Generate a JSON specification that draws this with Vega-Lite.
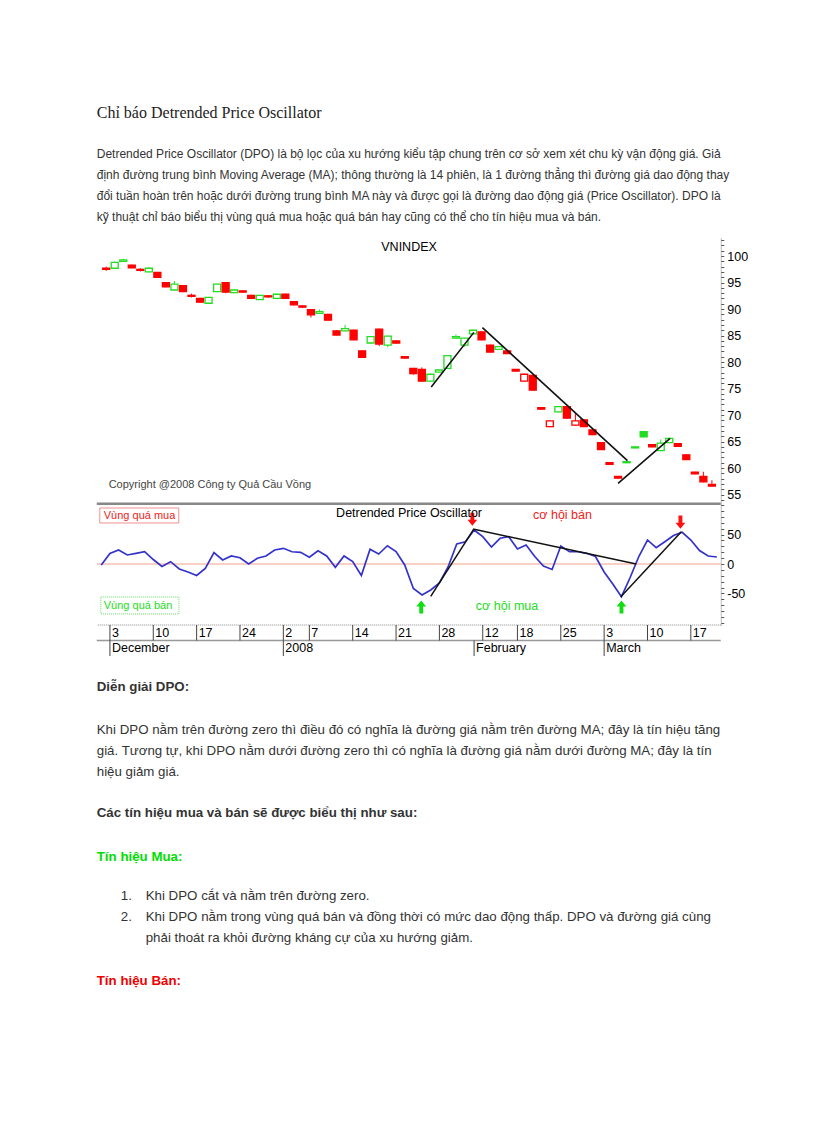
{
"$schema":"https://vega.github.io/schema/vega-lite/v6.json",
"background":"white",
"padding":{"left":94.75,"top":95,"right":0,"bottom":0},
"spacing":0,
"bounds":"flush",
"resolve":{"scale":{"color":"independent","fill":"independent","stroke":"independent","size":"independent","shape":"independent"}},
"config":{"view":{"stroke":null},"font":"Liberation Sans"},
"datasets":{
"topText":[
{"kind":"title","line":0,"indent":0,"t":"Chỉ báo Detrended Price Oscillator"},
{"kind":"p","line":1.9,"indent":0,"t":"Detrended Price Oscillator (DPO) là bộ lọc của xu hướng kiểu tập chung trên cơ sở xem xét chu kỳ vận động giá. Giả"},
{"kind":"p","line":2.9,"indent":0,"t":"định đường trung bình Moving Average (MA); thông thường là 14 phiên, là 1 đường thẳng thì đường giá dao động thay"},
{"kind":"p","line":3.9,"indent":0,"t":"đổi tuần hoàn trên hoặc dưới đường trung bình MA này và được gọi là đường dao động giá (Price Oscillator). DPO là"},
{"kind":"p","line":4.9,"indent":0,"t":"kỹ thuật chỉ báo biểu thị vùng quá mua hoặc quá bán hay cũng có thể cho tín hiệu mua và bán."}
],
"bottomText":[
{"kind":"h","line":0,"indent":0,"t":"Diễn giải DPO:"},
{"kind":"p","line":2,"indent":0,"t":"Khi DPO nằm trên đường zero thì điều đó có nghĩa là đường giá nằm trên đường MA; đây là tín hiệu tăng"},
{"kind":"p","line":3,"indent":0,"t":"giá. Tương tự, khi DPO nằm dưới đường zero thì có nghĩa là đường giá nằm dưới đường MA; đây là tín"},
{"kind":"p","line":4,"indent":0,"t":"hiệu giảm giá."},
{"kind":"h","line":5.93,"indent":0,"t":"Các tín hiệu mua và bán sẽ được biểu thị như sau:"},
{"kind":"buy","line":7.97,"indent":0,"t":"Tín hiệu Mua:"},
{"kind":"p","line":9.8,"indent":2,"t":"1."},
{"kind":"p","line":9.8,"indent":4.08,"t":"Khi DPO cắt và nằm trên đường zero."},
{"kind":"p","line":10.8,"indent":2,"t":"2."},
{"kind":"p","line":10.8,"indent":4.08,"t":"Khi DPO nằm trong vùng quá bán và đồng thời có mức dao động thấp. DPO và đường giá cùng"},
{"kind":"p","line":11.8,"indent":4.08,"t":"phải thoát ra khỏi đường kháng cự của xu hướng giảm."},
{"kind":"sell","line":13.78,"indent":0,"t":"Tín hiệu Bán:"}
],
"days":[
{"i":0,"o":97.7,"h":98.0,"l":97.2,"c":97.5,"chg":"down","dpo":-1.7},
{"i":1,"o":97.7,"h":99.0,"l":97.6,"c":98.8,"chg":"up","dpo":17.8},
{"i":2,"o":99.0,"h":99.5,"l":98.9,"c":99.3,"chg":"up","dpo":23.7},
{"i":3,"o":98.3,"h":98.4,"l":97.7,"c":97.8,"chg":"down","dpo":15.3},
{"i":4,"o":97.5,"h":97.7,"l":97.1,"c":97.3,"chg":"down","dpo":18.1},
{"i":5,"o":97.0,"h":97.9,"l":96.9,"c":97.7,"chg":"up","dpo":20.8},
{"i":6,"o":96.9,"h":97.0,"l":95.9,"c":96.0,"chg":"down","dpo":7.6},
{"i":7,"o":95.0,"h":95.1,"l":94.1,"c":94.2,"chg":"down","dpo":-4.2},
{"i":8,"o":93.6,"h":95.3,"l":93.5,"c":94.7,"chg":"up","dpo":3.9},
{"i":9,"o":94.4,"h":94.5,"l":93.2,"c":93.3,"chg":"down","dpo":-8.5},
{"i":10,"o":92.6,"h":92.9,"l":92.2,"c":92.4,"chg":"down","dpo":-13.6},
{"i":11,"o":92.0,"h":92.1,"l":91.2,"c":91.3,"chg":"down","dpo":-19.5},
{"i":12,"o":91.1,"h":92.3,"l":91.0,"c":92.2,"chg":"up","dpo":-7.6},
{"i":13,"o":93.3,"h":94.8,"l":93.2,"c":94.7,"chg":"up","dpo":19.5},
{"i":14,"o":95.0,"h":95.1,"l":93.0,"c":93.2,"chg":"down","dpo":6.8},
{"i":15,"o":93.1,"h":93.7,"l":93.0,"c":93.6,"chg":"up","dpo":13.6},
{"i":16,"o":93.45,"h":93.5,"l":93.1,"c":93.2,"chg":"down","dpo":10.7},
{"i":17,"o":92.6,"h":92.7,"l":91.9,"c":92.0,"chg":"down","dpo":0},
{"i":18,"o":91.8,"h":92.7,"l":91.7,"c":92.6,"chg":"up","dpo":9.7},
{"i":19,"o":92.5,"h":92.6,"l":92.1,"c":92.3,"chg":"down","dpo":13.6},
{"i":20,"o":92.0,"h":92.9,"l":91.9,"c":92.8,"chg":"up","dpo":23.7},
{"i":21,"o":92.8,"h":92.9,"l":91.9,"c":92.0,"chg":"down","dpo":26.6},
{"i":22,"o":91.4,"h":91.5,"l":90.7,"c":90.8,"chg":"down","dpo":20.8},
{"i":23,"o":90.6,"h":90.7,"l":90.2,"c":90.35,"chg":"down","dpo":19.8},
{"i":24,"o":89.9,"h":90.0,"l":88.4,"c":88.9,"chg":"down","dpo":11.4},
{"i":25,"o":89.2,"h":89.9,"l":89.1,"c":89.5,"chg":"up","dpo":22.5},
{"i":26,"o":89.0,"h":89.1,"l":87.8,"c":87.9,"chg":"down","dpo":13.6},
{"i":27,"o":85.9,"h":86.0,"l":85.0,"c":85.1,"chg":"down","dpo":-5.6},
{"i":28,"o":85.9,"h":87.0,"l":85.8,"c":86.3,"chg":"up","dpo":13.6},
{"i":29,"o":86.0,"h":86.1,"l":84.1,"c":84.2,"chg":"down","dpo":4.2},
{"i":30,"o":82.1,"h":82.2,"l":80.8,"c":80.9,"chg":"down","dpo":-19.5},
{"i":31,"o":83.6,"h":84.9,"l":83.5,"c":84.8,"chg":"up","dpo":24.9},
{"i":32,"o":86.2,"h":86.3,"l":83.0,"c":83.4,"chg":"down","dpo":16.9},
{"i":33,"o":83.2,"h":85.0,"l":82.8,"c":84.9,"chg":"up","dpo":31.0},
{"i":34,"o":84.0,"h":84.1,"l":83.4,"c":83.6,"chg":"down","dpo":21.2},
{"i":35,"o":81.0,"h":81.1,"l":80.6,"c":80.75,"chg":"down","dpo":-1.7},
{"i":36,"o":78.8,"h":78.9,"l":77.6,"c":77.8,"chg":"down","dpo":-41.5},
{"i":37,"o":78.6,"h":79.0,"l":76.3,"c":76.4,"chg":"down","dpo":-52.5},
{"i":38,"o":76.4,"h":77.8,"l":76.3,"c":77.7,"chg":"up","dpo":-44.0},
{"i":39,"o":78.1,"h":78.6,"l":78.0,"c":78.5,"chg":"up","dpo":-32.2},
{"i":40,"o":78.8,"h":81.3,"l":78.7,"c":81.2,"chg":"up","dpo":-5.1},
{"i":41,"o":84.5,"h":85.2,"l":84.4,"c":84.8,"chg":"up","dpo":33.9},
{"i":42,"o":83.2,"h":84.6,"l":82.9,"c":84.5,"chg":"up","dpo":37.8},
{"i":43,"o":85.3,"h":86.1,"l":85.2,"c":86.0,"chg":"up","dpo":57.6},
{"i":44,"o":85.7,"h":85.8,"l":84.1,"c":84.2,"chg":"down","dpo":46.3},
{"i":45,"o":83.2,"h":83.3,"l":81.8,"c":81.9,"chg":"down","dpo":28.8},
{"i":46,"o":82.4,"h":83.0,"l":82.3,"c":82.9,"chg":"up","dpo":43.6},
{"i":47,"o":82.1,"h":82.2,"l":81.5,"c":81.6,"chg":"down","dpo":46.3},
{"i":48,"o":78.6,"h":78.7,"l":78.2,"c":78.3,"chg":"down","dpo":25.4},
{"i":49,"o":76.4,"h":77.8,"l":76.3,"c":77.7,"chg":"down","dpo":32.2},
{"i":50,"o":77.5,"h":77.6,"l":74.6,"c":74.7,"chg":"down","dpo":12.7},
{"i":51,"o":71.4,"h":71.5,"l":71.0,"c":71.1,"chg":"down","dpo":-3.4},
{"i":52,"o":67.8,"h":69.0,"l":67.7,"c":68.9,"chg":"down","dpo":-9.3},
{"i":53,"o":70.6,"h":71.7,"l":70.5,"c":71.6,"chg":"up","dpo":30.5},
{"i":54,"o":71.6,"h":71.7,"l":69.3,"c":69.4,"chg":"down","dpo":20.8},
{"i":55,"o":68.1,"h":70.4,"l":68.0,"c":68.9,"chg":"down","dpo":20.8},
{"i":56,"o":69.1,"h":69.2,"l":67.7,"c":67.8,"chg":"down","dpo":18.1},
{"i":57,"o":67.2,"h":67.3,"l":66.2,"c":66.3,"chg":"down","dpo":12.7},
{"i":58,"o":64.8,"h":64.9,"l":63.4,"c":63.5,"chg":"down","dpo":-13.6},
{"i":59,"o":61.0,"h":61.1,"l":60.6,"c":60.7,"chg":"down","dpo":-33.9},
{"i":60,"o":58.4,"h":58.5,"l":58.0,"c":58.1,"chg":"down","dpo":-55.4},
{"i":61,"o":61.0,"h":61.3,"l":60.9,"c":61.2,"chg":"up","dpo":-22.9},
{"i":62,"o":63.8,"h":64.1,"l":63.7,"c":64.0,"chg":"up","dpo":12.7},
{"i":63,"o":66.85,"h":66.9,"l":65.8,"c":65.9,"chg":"up","dpo":40.7},
{"i":64,"o":64.4,"h":64.5,"l":63.9,"c":64.0,"chg":"down","dpo":27.6},
{"i":65,"o":63.3,"h":65.4,"l":63.2,"c":64.7,"chg":"up","dpo":37.8},
{"i":66,"o":64.8,"h":65.7,"l":64.7,"c":65.6,"chg":"up","dpo":48.3},
{"i":67,"o":64.6,"h":64.7,"l":64.0,"c":64.1,"chg":"down","dpo":53.7},
{"i":68,"o":62.5,"h":62.6,"l":61.5,"c":61.6,"chg":"down","dpo":40.7},
{"i":69,"o":59.2,"h":59.3,"l":58.8,"c":58.9,"chg":"down","dpo":22.9},
{"i":70,"o":58.4,"h":59.3,"l":57.3,"c":57.4,"chg":"down","dpo":13.6},
{"i":71,"o":56.9,"h":57.7,"l":56.5,"c":56.6,"chg":"down","dpo":11.9}
],
"trendP":[
{"seg":1,"i":38.1,"v":75.3},{"seg":1,"i":43.1,"v":85.6},
{"seg":2,"i":44.1,"v":86.5},{"seg":2,"i":61.1,"v":61.4},
{"seg":3,"i":60.0,"v":57.1},{"seg":3,"i":66.1,"v":65.6}
],
"trendD":[
{"seg":1,"i":38.0,"v":-55},{"seg":1,"i":43.0,"v":60},
{"seg":2,"i":43.0,"v":59},{"seg":2,"i":61.7,"v":0},
{"seg":3,"i":59.9,"v":-56},{"seg":3,"i":66.9,"v":54.7}
],
"priceNotes":[
{"kind":"title","i":35.5,"v":101.7,"t":"VNINDEX"},
{"kind":"copy","i":0.29,"v":56.8,"t":"Copyright @2008 Công ty Quả Cầu Vồng"}
],
"dpoRefs":[
{"kind":"zero","v":0},
{"kind":"sep","v":102.2}
],
"dpoNotes":[
{"kind":"title","i":35.5,"v":86.4,"t":"Detrended Price Oscillator"},
{"kind":"sell","i":49.8,"v":83,"t":"cơ hội bán"},
{"kind":"buy","i":43.2,"v":-71,"t":"cơ hội mua"},
{"kind":"sellzone","i":0.29,"v":81.4,"t":"Vùng quá mua"},
{"kind":"buyzone","i":0.29,"v":-71,"t":"Vùng quá bán"}
],
"boxes":[
{"kind":"sellzone","x1":-0.17,"x2":8.94,"y1":69.5,"y2":94.9},
{"kind":"buyzone","x1":-0.05,"x2":8.96,"y1":-55.9,"y2":-84.7}
],
"arrows":[
{"dir":"down","i":42.8,"v":76},
{"dir":"down","i":66.8,"v":71},
{"dir":"up","i":36.9,"v":-73},
{"dir":"up","i":60.0,"v":-73}
],
"bandLines":[
{"kind":"top","row":0},
{"kind":"mid","row":1}
],
"dayTicks":[
{"i":1,"t":"3"},{"i":6,"t":"10"},{"i":11,"t":"17"},{"i":16,"t":"24"},{"i":21,"t":"2"},{"i":24,"t":"7"},{"i":29,"t":"14"},{"i":34,"t":"21"},{"i":39,"t":"28"},{"i":44,"t":"12"},{"i":48,"t":"18"},{"i":53,"t":"25"},{"i":58,"t":"3"},{"i":63,"t":"10"},{"i":68,"t":"17"}
],
"monthTicks":[
{"i":1,"t":"December"},{"i":21,"t":"2008"},{"i":43,"t":"February"},{"i":58,"t":"March"}
]
},
"vconcat":[
{
"width":624,"height":142,
"data":{"name":"topText"},
"encoding":{
"x":{"field":"indent","type":"quantitative","scale":{"domain":[0,52],"nice":false,"zero":false},"axis":null},
"y":{"field":"line","type":"quantitative","scale":{"domain":[-1.095,5.667],"reverse":true,"nice":false,"zero":false},"axis":null},
"text":{"field":"t"}
},
"layer":[
{"transform":[{"filter":"datum.kind == 'title'"}],"mark":{"type":"text","align":"left","baseline":"alphabetic","font":"Liberation Serif","fontSize":16,"color":"#222222"}},
{"transform":[{"filter":"datum.kind == 'p'"}],"mark":{"type":"text","align":"left","baseline":"alphabetic","font":"Liberation Sans","fontSize":12,"color":"#333333"}}
]
},
{
"width":624,"height":266,
"layer":[
{"data":{"name":"days"},"mark":{"type":"rule","strokeWidth":1},
"encoding":{
"x":{"field":"i","type":"quantitative","scale":{"domain":[-0.52,71.45],"nice":false,"zero":false},"axis":null},
"y":{"field":"l","type":"quantitative","title":null,"scale":{"domain":[53.4,103.6],"nice":false,"zero":false},
"axis":{"orient":"right","tickCount":200,"values":[54,55,56,57,58,59,60,61,62,63,64,65,66,67,68,69,70,71,72,73,74,75,76,77,78,79,80,81,82,83,84,85,86,87,88,89,90,91,92,93,94,95,96,97,98,99,100,101,102,103],"labelExpr":"datum.value % 5 == 0 ? '' + datum.value : ''","labelOverlap":false,"grid":false,"labelFontSize":12.5,"labelColor":"#000000","tickColor":"#555555","tickSize":3,"labelPadding":3,"domainColor":"#777777","domainDash":[1,1],"labelFont":"Liberation Sans","title":null}},
"y2":{"field":"h"},
"color":{"field":"chg","type":"nominal","scale":{"domain":["down","up"],"range":["#ff0000","#22dd22"]},"legend":null}
}},
{"data":{"name":"days"},"mark":{"type":"bar","size":7,"strokeWidth":1.3},
"encoding":{
"x":{"field":"i","type":"quantitative"},
"y":{"field":"o","type":"quantitative","title":null},
"y2":{"field":"c"},
"fill":{"condition":{"test":"datum.c < datum.o","field":"chg","type":"nominal","scale":{"domain":["down","up"],"range":["#ff0000","#22dd22"]},"legend":null},"value":"white"},
"stroke":{"field":"chg","type":"nominal","scale":{"domain":["down","up"],"range":["#ff0000","#22dd22"]},"legend":null}
}},
{"data":{"name":"trendP"},"mark":{"type":"line","color":"#111111","strokeWidth":1.6},
"encoding":{
"x":{"field":"i","type":"quantitative"},
"y":{"field":"v","type":"quantitative","title":null},
"detail":{"field":"seg","type":"nominal"}
}},
{"data":{"name":"priceNotes"},"transform":[{"filter":"datum.kind == 'title'"}],"mark":{"type":"text","align":"center","baseline":"middle","fontSize":12.5,"color":"#000000"},
"encoding":{"x":{"field":"i","type":"quantitative"},"y":{"field":"v","type":"quantitative","title":null},"text":{"field":"t"}}},
{"data":{"name":"priceNotes"},"transform":[{"filter":"datum.kind == 'copy'"}],"mark":{"type":"text","align":"left","baseline":"middle","fontSize":11,"color":"#444444"},
"encoding":{"x":{"field":"i","type":"quantitative"},"y":{"field":"v","type":"quantitative","title":null},"text":{"field":"t"}}}
]
},
{
"width":624,"height":122,
"resolve":{"scale":{"color":"independent","size":"independent","shape":"independent"}},
"layer":[
{"data":{"name":"dpoRefs"},"transform":[{"filter":"datum.kind == 'zero'"}],"mark":{"type":"rule","color":"#f0a088","strokeWidth":1},
"encoding":{
"y":{"field":"v","type":"quantitative","title":null,"scale":{"domain":[-103.4,103.4],"nice":false,"zero":false},
"axis":{"orient":"right","tickCount":200,"values":[-100,-90,-80,-70,-60,-50,-40,-30,-20,-10,0,10,20,30,40,50,60,70,80,90,100],"labelExpr":"datum.value % 50 == 0 && abs(datum.value) < 100 ? '' + datum.value : ''","labelOverlap":false,"grid":false,"labelFontSize":12.5,"labelColor":"#000000","tickColor":"#555555","tickSize":3,"labelPadding":3,"domainColor":"#777777","domainDash":[1,1],"labelFont":"Liberation Sans","title":null}}
}},
{"data":{"name":"dpoRefs"},"transform":[{"filter":"datum.kind == 'sep'"}],"mark":{"type":"rule","color":"#888888","strokeWidth":2.5},
"encoding":{"y":{"field":"v","type":"quantitative","title":null}}},
{"data":{"name":"boxes"},"transform":[{"filter":"datum.kind == 'sellzone'"}],"mark":{"type":"rect","fill":null,"stroke":"#f09090","strokeWidth":1},
"encoding":{"x":{"field":"x1","type":"quantitative","scale":{"domain":[-0.52,71.45],"nice":false,"zero":false},"axis":null},"x2":{"field":"x2"},"y":{"field":"y1","type":"quantitative","title":null},"y2":{"field":"y2"}}},
{"data":{"name":"boxes"},"transform":[{"filter":"datum.kind == 'buyzone'"}],"mark":{"type":"rect","fill":null,"stroke":"#66dd66","strokeWidth":1,"strokeDash":[1,1]},
"encoding":{"x":{"field":"x1","type":"quantitative"},"x2":{"field":"x2"},"y":{"field":"y1","type":"quantitative","title":null},"y2":{"field":"y2"}}},
{"data":{"name":"days"},"mark":{"type":"line","color":"#3333cc","strokeWidth":1.7},
"encoding":{"x":{"field":"i","type":"quantitative"},"y":{"field":"dpo","type":"quantitative","title":null}}},
{"data":{"name":"trendD"},"mark":{"type":"line","color":"#111111","strokeWidth":1.5},
"encoding":{"x":{"field":"i","type":"quantitative"},"y":{"field":"v","type":"quantitative","title":null},"detail":{"field":"seg","type":"nominal"}}},
{"data":{"name":"arrows"},"mark":{"type":"point","filled":true,"opacity":1,"size":170},
"encoding":{"x":{"field":"i","type":"quantitative"},"y":{"field":"v","type":"quantitative","title":null},
"shape":{"field":"dir","type":"nominal","scale":{"domain":["down","up"],"range":["M-0.3,-1L0.3,-1L0.3,0.1L0.75,0.1L0,1L-0.75,0.1L-0.3,0.1Z","M-0.3,1L0.3,1L0.3,-0.1L0.75,-0.1L0,-1L-0.75,-0.1L-0.3,-0.1Z"]},"legend":null},
"color":{"field":"dir","type":"nominal","scale":{"domain":["down","up"],"range":["#ff1111","#11dd11"]},"legend":null}}},
{"data":{"name":"dpoNotes"},"transform":[{"filter":"datum.kind == 'title'"}],"mark":{"type":"text","align":"center","baseline":"middle","fontSize":12.5,"color":"#000000"},
"encoding":{"x":{"field":"i","type":"quantitative"},"y":{"field":"v","type":"quantitative","title":null},"text":{"field":"t"}}},
{"data":{"name":"dpoNotes"},"transform":[{"filter":"datum.kind == 'sell' || datum.kind == 'buy'"}],"mark":{"type":"text","align":"left","baseline":"middle","fontSize":12.5},
"encoding":{"x":{"field":"i","type":"quantitative"},"y":{"field":"v","type":"quantitative","title":null},"text":{"field":"t"},
"color":{"field":"kind","type":"nominal","scale":{"domain":["sell","buy"],"range":["#ee2222","#22dd22"]},"legend":null}}},
{"data":{"name":"dpoNotes"},"transform":[{"filter":"datum.kind == 'sellzone' || datum.kind == 'buyzone'"}],"mark":{"type":"text","align":"left","baseline":"middle","fontSize":11},
"encoding":{"x":{"field":"i","type":"quantitative"},"y":{"field":"v","type":"quantitative","title":null},"text":{"field":"t"},
"color":{"field":"kind","type":"nominal","scale":{"domain":["sellzone","buyzone"],"range":["#ee2222","#22dd22"]},"legend":null}}}
]
},
{
"width":624,"height":31,
"layer":[
{"data":{"name":"bandLines"},"transform":[{"filter":"datum.kind == 'top'"}],"mark":{"type":"rule","color":"#888888","strokeWidth":1,"strokeDash":[1,1]},
"encoding":{"y":{"field":"row","type":"quantitative","scale":{"domain":[0,2],"reverse":true,"nice":false,"zero":false},"axis":null}}},
{"data":{"name":"bandLines"},"transform":[{"filter":"datum.kind == 'mid'"}],"mark":{"type":"rule","color":"#999999","strokeWidth":1.5},
"encoding":{"y":{"field":"row","type":"quantitative"}}},
{"data":{"name":"dayTicks"},"mark":{"type":"rule","color":"#444444","strokeWidth":1},
"encoding":{"x":{"field":"i","type":"quantitative","scale":{"domain":[-0.52,71.45],"nice":false,"zero":false},"axis":null},"y":{"datum":0,"type":"quantitative"},"y2":{"datum":1}}},
{"data":{"name":"dayTicks"},"mark":{"type":"text","align":"left","baseline":"middle","dx":2,"fontSize":12.5,"color":"#000000"},
"encoding":{"x":{"field":"i","type":"quantitative"},"y":{"datum":0.5,"type":"quantitative"},"text":{"field":"t"}}},
{"data":{"name":"monthTicks"},"mark":{"type":"rule","color":"#444444","strokeWidth":1},
"encoding":{"x":{"field":"i","type":"quantitative"},"y":{"datum":1,"type":"quantitative"},"y2":{"datum":2}}},
{"data":{"name":"monthTicks"},"mark":{"type":"text","align":"left","baseline":"middle","dx":2,"fontSize":12.5,"color":"#000000"},
"encoding":{"x":{"field":"i","type":"quantitative"},"y":{"datum":1.5,"type":"quantitative"},"text":{"field":"t"}}}
]
},
{
"width":624,"height":344,
"data":{"name":"bottomText"},
"encoding":{
"x":{"field":"indent","type":"quantitative","scale":{"domain":[0,52],"nice":false,"zero":false},"axis":null},
"y":{"field":"line","type":"quantitative","scale":{"domain":[-1.643,14.507],"reverse":true,"nice":false,"zero":false},"axis":null},
"text":{"field":"t"}
},
"layer":[
{"transform":[{"filter":"datum.kind == 'p'"}],"mark":{"type":"text","align":"left","baseline":"alphabetic","fontSize":13.3,"color":"#333333"}},
{"transform":[{"filter":"datum.kind != 'p'"}],"mark":{"type":"text","align":"left","baseline":"alphabetic","fontSize":13.3,"fontWeight":"bold"},
"encoding":{"color":{"field":"kind","type":"nominal","scale":{"domain":["h","buy","sell"],"range":["#333333","#00dd00","#ee0000"]},"legend":null}}}
]
}
]
}
